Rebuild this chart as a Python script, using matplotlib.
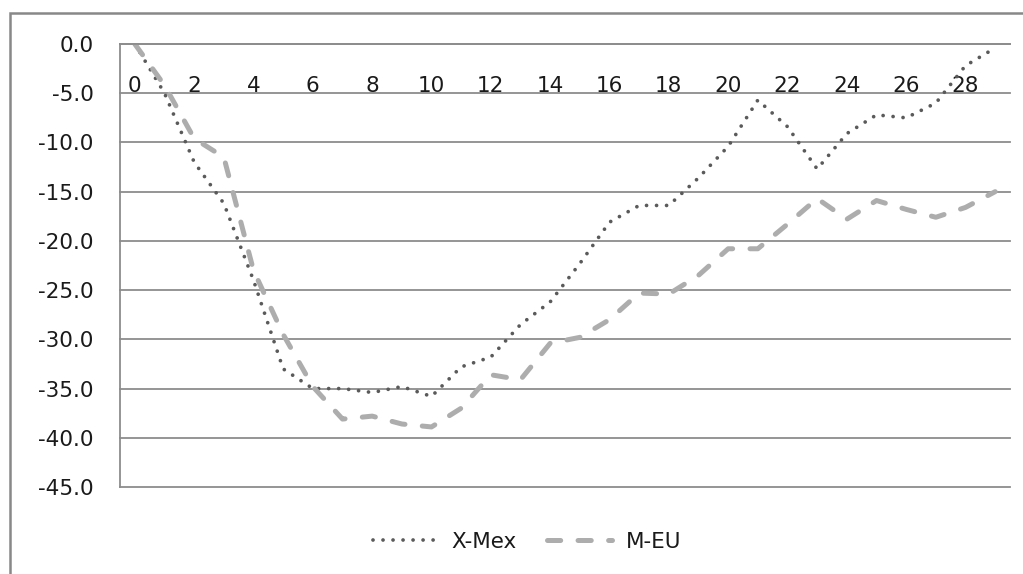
import matplotlib
matplotlib.use("Agg")
import matplotlib.pyplot as plt
from matplotlib.patches import Rectangle

periods = list(range(30))
x_mex = [0.0, -5.0, -12.0, -16.2, -24.0, -33.0, -35.0, -35.0, -35.4, -34.8,
         -35.8, -32.8, -31.8, -28.5, -26.2, -22.3, -18.1, -16.4, -16.4, -13.6,
         -10.4, -5.7, -8.4, -12.7, -9.1, -7.2, -7.5, -6.0, -2.2, -0.4]
m_eu = [0.0, -4.2, -9.6, -11.5, -23.0, -29.5, -34.8, -38.1, -37.8, -38.6,
        -38.9, -37.0, -33.6, -34.1, -30.4, -29.8, -28.0, -25.3, -25.4, -23.5,
        -20.8, -20.8, -18.3, -15.7, -17.8, -15.9, -16.8, -17.6, -16.6, -15.0]
x_ticks = list(range(0, 29, 2))
y_ticks = [0, -5, -10, -15, -20, -25, -30, -35, -40, -45]
series_names = ["X-Mex", "M-EU"]

plt.rcParams["font.family"] = ["DejaVu Sans"]
plt.rcParams["lines.scale_dashes"] = False

W, H = 1023, 574
fig = plt.figure(figsize=(W / 100, H / 100), dpi=100)
ax = fig.add_axes([120 / W, 1 - 487 / H, 890 / W, (487 - 44) / H])

grid_c = "#8c8c8c"
ax.set_ylim(-45, 0)
ax.set_xlim(-0.5, 29.5)
ax.set_yticks(y_ticks)
ax.set_yticklabels([f"{v:.1f}" for v in y_ticks])
ax.yaxis.grid(True, color=grid_c, linewidth=1.3)
for gl in ax.get_ygridlines():
    gl.set_clip_on(False)
ax.set_axisbelow(True)

ax.set_xticks(x_ticks)
ax.set_xticklabels([str(t) for t in x_ticks])

for s in ["top", "right"]:
    ax.spines[s].set_visible(False)
ax.spines["left"].set_color(grid_c)
ax.spines["left"].set_linewidth(1.3)
ax.spines["bottom"].set_position(("data", 0))
ax.spines["bottom"].set_color(grid_c)
ax.spines["bottom"].set_linewidth(1.3)

ax.tick_params(axis="y", length=0, pad=19, labelsize=15.5, labelcolor="#1a1a1a")
ax.tick_params(axis="x", length=0, pad=23, labelsize=15.5, labelcolor="#1a1a1a")

ax.plot(periods, x_mex, color="#5a5a5a", linewidth=2.7, dashes=(0.01, 7.2),
        dash_capstyle="round", label=series_names[0])
ax.plot(periods, m_eu, color="#adadad", linewidth=3.6, dashes=(9.5, 12.5),
        dash_capstyle="round", label=series_names[1])

leg = ax.legend(loc="center", bbox_to_anchor=(527 / W, 1 - 542 / H),
                bbox_transform=fig.transFigure, ncol=2, frameon=False,
                fontsize=15.5, handlelength=3.0, handletextpad=0.65,
                columnspacing=1.4)
for t in leg.get_texts():
    t.set_color("#1a1a1a")

frame = Rectangle((10 / W, -0.2), 1.2, 1.2 - 13 / H, transform=fig.transFigure,
                  fill=False, edgecolor="#888888", linewidth=1.8, clip_on=False)
fig.patches.append(frame)

fig.savefig("out.png", dpi=100)
